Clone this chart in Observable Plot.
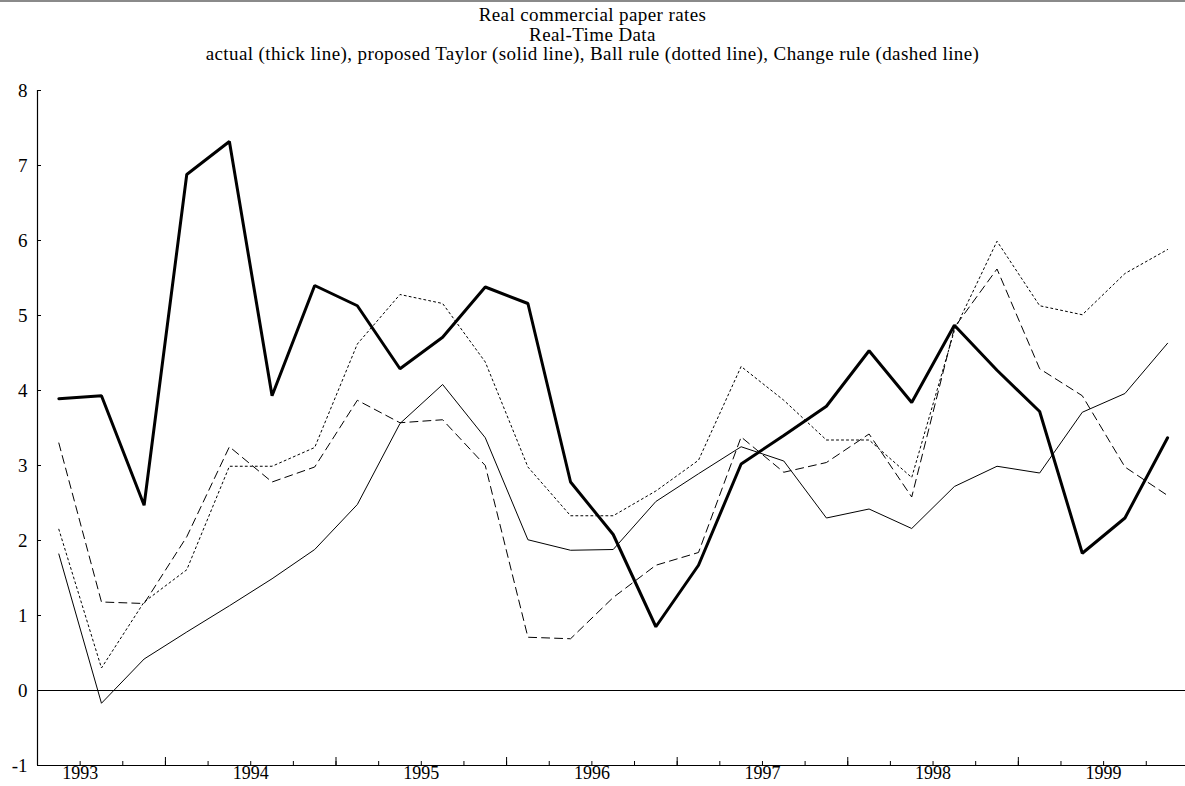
<!DOCTYPE html>
<html>
<head>
<meta charset="utf-8">
<script src="https://cdn.jsdelivr.net/npm/d3@7"></script>
<script src="https://cdn.jsdelivr.net/npm/@observablehq/plot@0.6"></script>
<style>
  html, body { margin: 0; padding: 0; background: #fff; }
  #wrap { width: 1185px; height: 786px; overflow: hidden; position: relative; }
  #titles { border-top: 2px solid #8a8a8a; padding-top: 3px; box-sizing: border-box; height: 62px;
    font-family: "Liberation Serif", "Times New Roman", serif; font-size: 19px; letter-spacing: 0.4px;
    line-height: 19.5px; text-align: center; color: #000; }
  #chart svg { display: block; }
</style>
</head>
<body>
<div id="wrap">
  <div id="titles">
    <div>Real commercial paper rates</div>
    <div>Real-Time Data</div>
    <div>actual (thick line), proposed Taylor (solid line), Ball rule (dotted line), Change rule (dashed line)</div>
  </div>
  <div id="chart"></div>
</div>
<script>
const quarters = ["1992:4",
  "1993:1","1993:2","1993:3","1993:4",
  "1994:1","1994:2","1994:3","1994:4",
  "1995:1","1995:2","1995:3","1995:4",
  "1996:1","1996:2","1996:3","1996:4",
  "1997:1","1997:2","1997:3","1997:4",
  "1998:1","1998:2","1998:3","1998:4",
  "1999:1","1999:2"];
const actual = [3.89,3.93,2.47,6.88,7.32,3.93,5.40,5.13,4.29,4.71,5.38,5.16,2.78,2.08,0.85,1.67,3.02,3.40,3.79,4.53,3.84,4.87,4.27,3.72,1.83,2.30,3.37];
const taylor = [1.82,-0.17,0.42,0.78,1.13,1.49,1.88,2.48,3.56,4.08,3.37,2.01,1.87,1.88,2.52,2.89,3.25,3.06,2.30,2.42,2.16,2.72,2.99,2.90,3.71,3.96,4.63];
const ball   = [2.15,0.30,1.18,1.61,2.99,2.99,3.24,4.62,5.28,5.16,4.38,2.98,2.33,2.33,2.66,3.07,4.32,3.87,3.34,3.34,2.84,4.80,5.99,5.13,5.01,5.56,5.88];
const change = [3.30,1.18,1.16,2.05,3.25,2.78,2.98,3.87,3.57,3.61,3.00,0.71,0.69,1.24,1.67,1.84,3.38,2.91,3.04,3.42,2.58,4.84,5.62,4.29,3.93,2.98,2.60];
const yearLabels = [1993,1994,1995,1996,1997,1998,1999];
const yTicks = [-1,0,1,2,3,4,5,6,7,8];

// quarter position: centre of the quarter
const qx = quarters.map(s => { const [y, q] = s.split(":").map(Number); return y + (q - 0.5) / 4; });
const rows = (vals) => vals.map((v, i) => ({x: qx[i], v}));

const smallTicks = d3.range(1993, 1999.3, 0.25);
const bigTicks = yearLabels.slice(0, 6).map(y => y + 0.5);

const font = "Liberation Serif, Times New Roman, serif";
const chart = Plot.plot({
  width: 1185,
  height: 724,
  marginLeft: 37,
  marginRight: 0,
  marginTop: 28,
  marginBottom: 21,
  style: {fontFamily: font, fontSize: "19px", color: "#000", background: "#fff", overflow: "visible"},
  x: {domain: [1992.75, 1999.48], axis: null},
  y: {domain: [-1, 8], axis: null},
  marks: [
    Plot.ruleY([0], {stroke: "#000", strokeWidth: 1}),
    Plot.ruleY([-1], {stroke: "#000", strokeWidth: 1.2}),
    Plot.ruleX([1992.75], {stroke: "#000", strokeWidth: 1.2}),
    Plot.axisY({ticks: yTicks, tickSize: -4, tickFormat: () => "", stroke: "#000", label: null}),
    Plot.axisY({ticks: yTicks, tickSize: 0, tickPadding: 10, tickFormat: d => String(d), fill: "#000", label: null}),
    Plot.axisX({ticks: smallTicks, tickSize: -4, tickFormat: () => "", stroke: "#000", label: null}),
    Plot.axisX({ticks: bigTicks, tickSize: -8, tickFormat: () => "", stroke: "#000", label: null}),
    Plot.axisX({ticks: yearLabels, tickSize: 0, tickPadding: 1, fontSize: 18, tickFormat: d => String(d), fill: "#000", label: null}),
    Plot.line(rows(taylor), {x: "x", y: "v", stroke: "#000", strokeWidth: 1}),
    Plot.line(rows(ball), {x: "x", y: "v", stroke: "#000", strokeWidth: 1, strokeDasharray: "2,3"}),
    Plot.line(rows(change), {x: "x", y: "v", stroke: "#000", strokeWidth: 1, strokeDasharray: "8,5"}),
    Plot.line(rows(actual), {x: "x", y: "v", stroke: "#000", strokeWidth: 3, strokeLinejoin: "miter"})
  ]
});
document.getElementById("chart").appendChild(chart);
</script>
</body>
</html>
